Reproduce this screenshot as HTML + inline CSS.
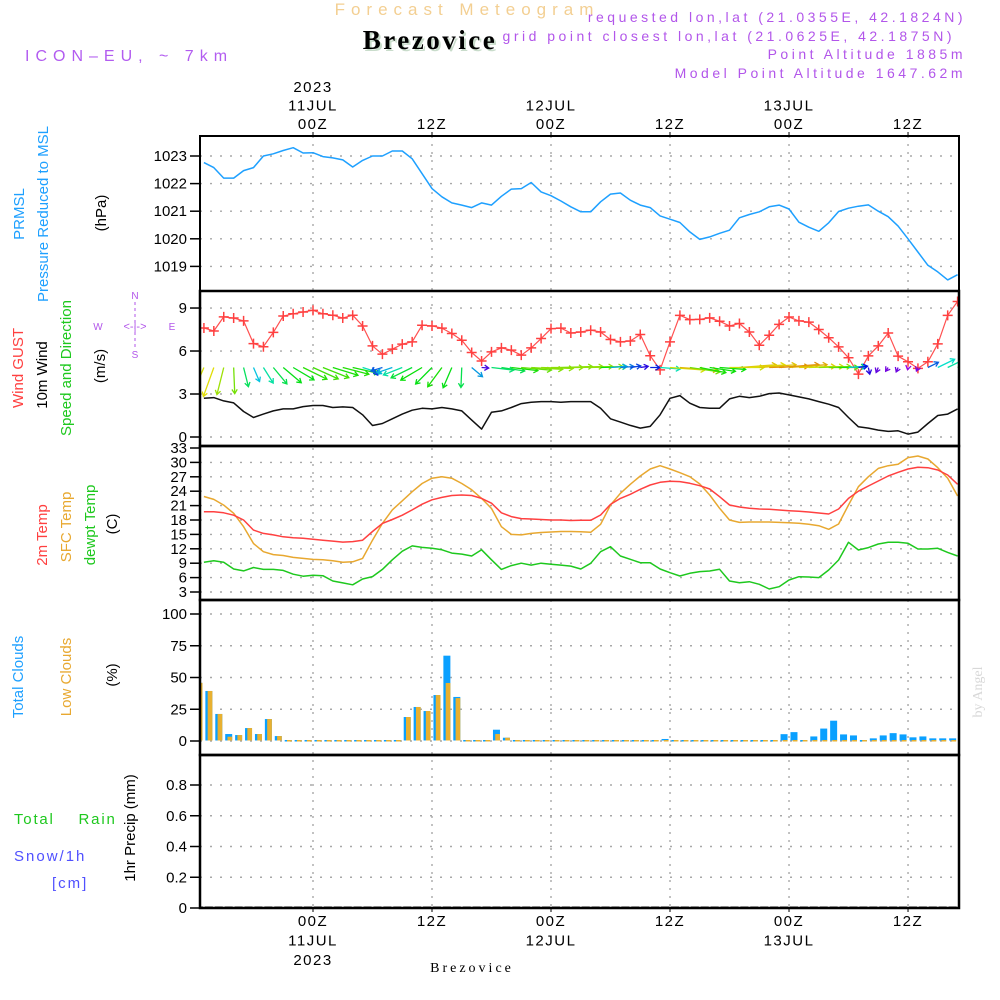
<!DOCTYPE html>
<html><head><meta charset="utf-8">
<style>
html,body{margin:0;padding:0;background:#fff;}
svg{display:block;font-family:"Liberation Sans","DejaVu Sans",sans-serif;}
</style></head>
<body>
<svg id="chart" width="1000" height="1000" viewBox="0 0 1000 1000" xmlns="http://www.w3.org/2000/svg">
<text x="467" y="15" text-anchor="middle" font-size="17" fill="#f3cf92" letter-spacing="6">Forecast Meteogram</text>
<text x="432" y="51" text-anchor="middle" font-family="Liberation Serif,serif" font-weight="bold" font-size="27" fill="#c9dccb" letter-spacing="2.5">Brezovice</text>
<text x="430" y="49" text-anchor="middle" font-family="Liberation Serif,serif" font-weight="bold" font-size="27" fill="#000" letter-spacing="2.5">Brezovice</text>
<text x="25" y="61" font-size="16" fill="#b25cf0" letter-spacing="6">ICON–EU, ~ 7km</text>
<g font-size="14" fill="#b256ea" text-anchor="end" letter-spacing="3.5">
<text x="966" y="22">requested lon,lat (21.0355E, 42.1824N)</text>
<text x="955" y="41">grid point closest lon,lat (21.0625E, 42.1875N)</text>
<text x="966" y="59">Point Altitude 1885m</text>
<text x="966" y="78">Model Point Altitude 1647.62m</text>
</g>
<g font-size="15">
<text transform="translate(24,214) rotate(-90)" text-anchor="middle" fill="#1ea0ff">PRMSL</text>
<text transform="translate(48,214) rotate(-90)" text-anchor="middle" fill="#1ea0ff">Pressure Reduced to MSL</text>
<text transform="translate(106,213) rotate(-90)" text-anchor="middle" fill="#000">(hPa)</text>
<text transform="translate(23,368) rotate(-90)" text-anchor="middle" fill="#ff4040">Wind GUST</text>
<text transform="translate(47,375) rotate(-90)" text-anchor="middle" fill="#000">10m Wind</text>
<text transform="translate(71,368) rotate(-90)" text-anchor="middle" fill="#1ec81e">Speed and Direction</text>
<text transform="translate(105,366) rotate(-90)" text-anchor="middle" fill="#000">(m/s)</text>
<text transform="translate(47,535) rotate(-90)" text-anchor="middle" fill="#ff4040">2m Temp</text>
<text transform="translate(71,527) rotate(-90)" text-anchor="middle" fill="#e8a830">SFC Temp</text>
<text transform="translate(95,525) rotate(-90)" text-anchor="middle" fill="#1ec81e">dewpt Temp</text>
<text transform="translate(117,524) rotate(-90)" text-anchor="middle" fill="#000">(C)</text>
<text transform="translate(23,677) rotate(-90)" text-anchor="middle" fill="#1ea0ff">Total Clouds</text>
<text transform="translate(71,677) rotate(-90)" text-anchor="middle" fill="#e8a830">Low Clouds</text>
<text transform="translate(117,675) rotate(-90)" text-anchor="middle" fill="#000">(%)</text>
<text transform="translate(135,828) rotate(-90)" text-anchor="middle" fill="#000">1hr Precip (mm)</text>
<text x="14" y="824" fill="#1ec81e" letter-spacing="1.8">Total&#160;&#160;&#160;&#160;Rain</text>
<text x="14" y="861" fill="#5050ff" letter-spacing="2">Snow/1h</text>
<text x="52" y="888" fill="#5050ff" letter-spacing="2">[cm]</text>
</g>
<g font-size="10" fill="#b256ea" text-anchor="middle">
<text x="135" y="299">N</text><text x="98" y="330">W</text><text x="172" y="330">E</text><text x="135" y="358">S</text>
<text x="135" y="330" font-size="11">&lt;-|-&gt;</text>
<line x1="135" y1="302" x2="135" y2="350" stroke="#b256ea" stroke-width="1" stroke-dasharray="3,3"/>
</g>
<text transform="translate(982,692) rotate(-90)" text-anchor="middle" font-family="Liberation Serif,serif" font-size="14" fill="#d8d8d8">by Angel</text>
<text x="472" y="972" text-anchor="middle" font-family="Liberation Serif,serif" font-size="14" fill="#000" letter-spacing="3">Brezovice</text>
<defs><clipPath id="plotclip"><rect x="200" y="136" width="759" height="772"/></clipPath></defs>
<g id="grid"></g>
<g id="marks" clip-path="url(#plotclip)"></g>
<g id="axes"></g>
</svg>
<script>
// ---- data (hourly, from 13Z 10 JUL = hour -11 relative to 00Z 11 JUL) ----
const startHour = -11;
const pressure = [1022.76,1022.58,1022.2,1022.2,1022.47,1022.58,1023.0,1023.08,1023.2,1023.3,1023.11,1023.12,1022.98,1022.93,1022.86,1022.6,1022.84,1023.0,1023.0,1023.18,1023.18,1022.9,1022.36,1021.82,1021.52,1021.3,1021.22,1021.13,1021.3,1021.22,1021.54,1021.8,1021.82,1022.04,1021.7,1021.56,1021.37,1021.16,
1020.98,1020.98,1021.34,1021.62,1021.66,1021.4,1021.22,1021.13,1020.83,1020.71,1020.59,1020.25,1019.98,1020.07,1020.2,1020.31,1020.76,1020.88,1020.98,1021.16,1021.22,1021.08,1020.6,1020.42,1020.27,1020.58,1020.99,1021.11,1021.18,1021.23,1021.0,1020.8,1020.46,1020.0,1019.52,1019.04,1018.8,1018.51,1018.7];
const windGust = [7.61,7.4,8.38,8.3,8.1,6.52,6.3,7.3,8.44,8.6,8.72,8.84,8.6,8.5,8.3,8.5,7.75,6.36,5.78,6.13,6.48,6.64,7.8,7.75,7.6,7.22,6.75,5.9,5.3,5.94,6.22,6.06,5.71,6.22,6.87,7.56,7.6,7.26,
7.33,7.45,7.33,6.8,6.64,6.7,7.15,5.67,4.68,6.64,8.49,8.19,8.21,8.31,8.08,7.75,7.92,7.33,6.4,7.1,7.86,8.37,8.1,8.02,7.5,6.93,6.29,5.53,4.39,5.66,6.36,7.26,5.64,5.25,4.79,5.25,6.5,8.49,9.46];
const windSpeed = [2.7,2.75,2.52,2.38,1.78,1.36,1.6,1.82,1.96,1.96,2.12,2.2,2.2,2.06,2.1,2.06,1.55,0.8,0.94,1.27,1.6,1.87,2.0,1.96,2.06,1.96,1.82,1.18,0.55,1.73,1.82,2.06,2.33,2.43,2.47,2.47,2.43,2.47,
2.47,2.47,2.01,1.27,1.04,0.81,0.62,0.74,1.55,2.7,2.89,2.36,2.06,2.01,2.01,2.66,2.84,2.75,2.84,3.03,3.07,2.94,2.8,2.66,2.47,2.29,2.06,1.36,0.71,0.62,0.48,0.39,0.43,0.2,0.34,0.94,1.5,1.6,1.96];
const windToDeg = [200,197,192,178,168,160,152,145,135,125,120,118,115,110,107,105,110,150,250,248,245,240,235,220,212,200,182,135,95,98,100,98,96,94,92,90,88,88,
88,88,88,85,85,80,80,90,95,95,95,100,103,100,95,90,85,85,85,88,85,85,88,88,88,90,88,85,80,170,200,210,200,190,200,60,60,60,65];
const temp2m = [19.7,19.7,19.5,19.0,18.0,15.9,15.2,14.9,14.5,14.3,14.2,14.0,13.8,13.6,13.4,13.5,13.8,15.6,17.3,18.1,19.0,20.1,21.3,22.2,22.7,23.1,23.2,23.1,22.5,21.5,19.5,18.7,18.3,18.2,18.1,18.0,18.0,17.9,
17.93,17.93,19.04,21.26,22.51,23.35,24.39,25.29,25.85,26.06,25.99,25.64,25.15,24.46,22.86,21.13,20.71,20.43,20.29,20.22,20.08,19.94,19.81,19.67,19.46,19.25,20.29,22.51,24.0,25.08,26.13,27.17,27.93,28.63,28.97,28.9,28.42,27.38,25.43];
const tempSfc = [22.9,22.3,21.1,19.4,16.6,13.1,11.4,10.8,10.6,10.2,10.0,9.8,9.7,9.5,9.2,9.3,10.0,13.8,17.3,20.1,22.0,23.9,25.6,26.7,27.0,26.7,25.6,24.3,22.5,20.4,16.6,15.0,14.9,15.2,15.4,15.5,15.6,15.6,
15.57,15.43,17.1,21.13,23.56,25.43,27.17,28.63,29.32,28.63,27.86,27.03,25.5,23.21,20.43,18.0,17.51,17.58,17.58,17.58,17.51,17.44,17.31,17.1,16.82,16.06,17.17,21.13,24.94,27.03,28.76,29.32,29.6,30.99,31.33,30.71,28.9,26.68,23.0];
const tempDew = [9.2,9.5,9.2,7.8,7.4,8.1,7.7,7.7,7.5,6.7,6.3,6.5,6.4,5.3,4.9,4.5,5.7,6.2,7.7,9.7,11.5,12.6,12.3,12.1,11.8,11.1,10.9,10.5,11.8,9.7,7.7,8.5,9.0,8.6,9.0,8.8,8.6,8.4,
7.79,8.97,11.4,12.44,10.5,9.81,9.11,9.11,7.79,7.03,6.33,6.89,7.24,7.38,7.72,5.29,4.94,5.15,4.6,3.63,4.11,5.5,6.19,6.13,5.99,7.58,9.67,13.35,11.75,12.24,13.0,13.35,13.35,13.14,11.96,11.96,12.1,11.26,10.5];
// cloud bars: bar b covers the hour ending at index b
const totalClouds = [45,38.6,20.5,4.7,3.9,9.4,4.7,16.5,3.1,0,0,0,0,0,0,0,0,0,0,0,0,18.1,26,22.8,35.4,66.4,33.9,0,0,0,8.1,1.8,0,0,0,0,0,0,0,0,0,0,0,0,0,0,0,0.8,0,0,0,0,0,0,0,0,0,0,0,4.6,6.2,0,2.8,9,15.2,4.4,3.6,0,1.3,3.6,5.4,4.4,2.1,2.8,1.3,1.3,1.3,0];
const lowClouds = [45,38.6,20.5,2.6,3.9,9.4,4.7,16.5,3.1,0,0,0,0,0,0,0,0,0,0,0,0,18.1,26,22.8,35.4,44.9,33,0,0,0,4.7,1.8,0,0,0,0,0,0,0,0,0,0,0,0,0,0,0,0,0,0,0,0,0,0,0,0,0,0,0,0,0,0,0,0,0,0,0,0,0,0,0,0,0,0,0,0,0,0];
const precip = new Array(77).fill(0);
const pressureTicks = [1019,1020,1021,1022,1023];
const windTicks = [0,3,6,9];
const tempTicks = [3,6,9,12,15,18,21,24,27,30,33];
const cloudTicks = [0,25,50,75,100];
const precipTicks = [0,0.2,0.4,0.6,0.8];
const timeTicks = [0,12,24,36,48,60];
const topTimeLabels = [["2023","11JUL","00Z"],["","","12Z"],["","12JUL","00Z"],["","","12Z"],["","13JUL","00Z"],["","","12Z"]];
const bottomTimeLabels = [["00Z","11JUL","2023"],["12Z","",""],["00Z","12JUL",""],["12Z","",""],["00Z","13JUL",""],["12Z","",""]];

// ---- scales ----
const NS = "http://www.w3.org/2000/svg";
const L = 200, R = 959;
const xH = h => 313 + h * 9.917;
const xK = k => xH(k + startHour);
const yP = p => 156 + (1023 - p) * 27.6;
const yW = w => 437 - w * 14.33;
const yT = t => 592 - (t - 3) * 4.8;
const yC = c => 741 - c * 1.27;
const yR = v => 908 - v * 153.75;
const panels = [[136,291],[291,446],[446,600],[600,755],[755,908]];

function mk(tag, attrs, parent){ const e=document.createElementNS(NS,tag); for(const k in attrs) e.setAttribute(k,attrs[k]); parent.appendChild(e); return e; }
const grid=document.getElementById('grid'), marks=document.getElementById('marks'), axes=document.getElementById('axes');

function hgrid(ticks, yf, fmt, name, top, bot){
  ticks.forEach(t=>{
    const y=yf(t);
    if(y>top+2 && y<bot-2){
      const g=mk('line',{x1:L,x2:R,y1:y,y2:y,stroke:'#a8a8a8','stroke-width':1.4,'stroke-dasharray':'2,8'},grid);
      
      
    }
    const tk=mk('line',{x1:190,x2:L,y1:y,y2:y,stroke:'#000','stroke-width':1.5},axes);
    
    
    const tx=mk('text',{x:187,y:y+5,'text-anchor':'end','font-size':15,fill:'#000'},axes);
    tx.textContent=fmt(t);
    
    
  });
}
hgrid(pressureTicks,yP,String,'pressure-y',136,291);
hgrid(windTicks,yW,String,'wind-y',291,446);
hgrid(tempTicks,yT,String,'temp-y',446,600);
hgrid(cloudTicks,yC,String,'cloud-y',600,755);
hgrid(precipTicks,yR,v=>v===0?'0':v.toFixed(1),'precip-y',755,908);

timeTicks.forEach((h,i)=>{
  const x=xH(h);
  const v=mk('line',{x1:x,x2:x,y1:136,y2:908,stroke:'#a8a8a8','stroke-width':1.4,'stroke-dasharray':'2,6'},grid);
  
  
  mk('line',{x1:x,x2:x,y1:132,y2:136,stroke:'#000','stroke-width':1},axes);
  mk('line',{x1:x,x2:x,y1:908,y2:912,stroke:'#000','stroke-width':1},axes);
  topTimeLabels[i].forEach((s,j)=>{ if(!s) return;
    const t=mk('text',{x:x,y:92+j*18.5,'text-anchor':'middle','font-size':15,fill:'#000','letter-spacing':1.5},axes);
    t.textContent=s;
    
    
  });
  bottomTimeLabels[i].forEach((s,j)=>{ if(!s) return;
    const t=mk('text',{x:x,y:926+j*19.5,'text-anchor':'middle','font-size':15,fill:'#000','letter-spacing':1.5},axes);
    t.textContent=s;
    
    
  });
});

panels.forEach((p,i)=>{
  const r=mk('rect',{x:L,y:p[0],width:R-L,height:p[1]-p[0],fill:'none',stroke:'#000','stroke-width':i===0?2:2.5},axes);
  
  
});

function line(vals, yf, color, name, w){
  const d=vals.map((v,k)=>(k?'L':'M')+xK(k).toFixed(1)+','+yf(v).toFixed(1)).join('');
  const p=mk('path',{d:d,fill:'none',stroke:color,'stroke-width':w||1.5,'stroke-linejoin':'round'},marks);
  
  
}
line(pressure,yP,'#1ea0ff','pressure-line');
line(windSpeed,yW,'#111','wind-speed-line');
line(windGust,yW,'#ff5050','wind-gust-line',1.2);
windGust.forEach((g,k)=>{
  const x=xK(k), y=yW(g);
  const m=mk('path',{d:`M${x-5},${y}H${x+5}M${x},${y-5}V${y+5}`,stroke:'#ff4040','stroke-width':1.5},marks);
  
  
});
function speedHue(s){
  const st=[[0.2,280],[0.5,265],[0.8,225],[1.4,185],[2.0,120],[2.5,80],[2.8,55],[3.1,35]];
  if(s<=st[0][0]) return st[0][1];
  for(let i=1;i<st.length;i++) if(s<=st[i][0]){const a=st[i-1],b=st[i];return a[1]+(b[1]-a[1])*(s-a[0])/(b[0]-a[0]);}
  return 35;
}
const arrowBase = yW(4.85);
windSpeed.forEach((s,k)=>{
  const b=windToDeg[k]*Math.PI/180;
  const x0=xK(k), y0=arrowBase;
  const dx=Math.sin(b)*s*13, dy=-Math.cos(b)*s*11;
  const x1=x0+dx, y1=y0+dy;
  const ang=Math.atan2(dy,dx), hl=5;
  const a1=ang+Math.PI*0.82, a2=ang-Math.PI*0.82;
  const col=`hsl(${speedHue(s)},95%,45%)`;
  const p=mk('path',{d:`M${x0},${y0}L${x1},${y1}M${x1+hl*Math.cos(a1)},${y1+hl*Math.sin(a1)}L${x1},${y1}L${x1+hl*Math.cos(a2)},${y1+hl*Math.sin(a2)}`,stroke:col,'stroke-width':1.3,fill:'none'},marks);
  
  
});
line(tempSfc,yT,'#e8a830','sfc-temp-line');
line(temp2m,yT,'#ff4040','temp-2m-line');
line(tempDew,yT,'#1ec81e','dewpoint-line');
totalClouds.forEach((c,b)=>{
  const cx=xK(b-0.5);
  const r=mk('rect',{x:cx-3.5,y:yC(c)-1,width:7,height:Math.max(1,c*1.27)+0.5,fill:'#0aa0ff'},marks);
  
  
  const lc=lowClouds[b]||0;
  const r2=mk('rect',{x:cx-1.2,y:yC(lc)-1,width:4.7,height:Math.max(1,lc*1.27)+0.5,fill:'#e8b030'},marks);
  
  
});
precip.forEach((v,b)=>{
  const cx=xK(b-0.5);
  const r=mk('rect',{x:cx-4,y:yR(v)-1.5,width:8,height:v*153.75+1.5,fill:'#111'},marks);
  
  
});
</script>
</body></html>
